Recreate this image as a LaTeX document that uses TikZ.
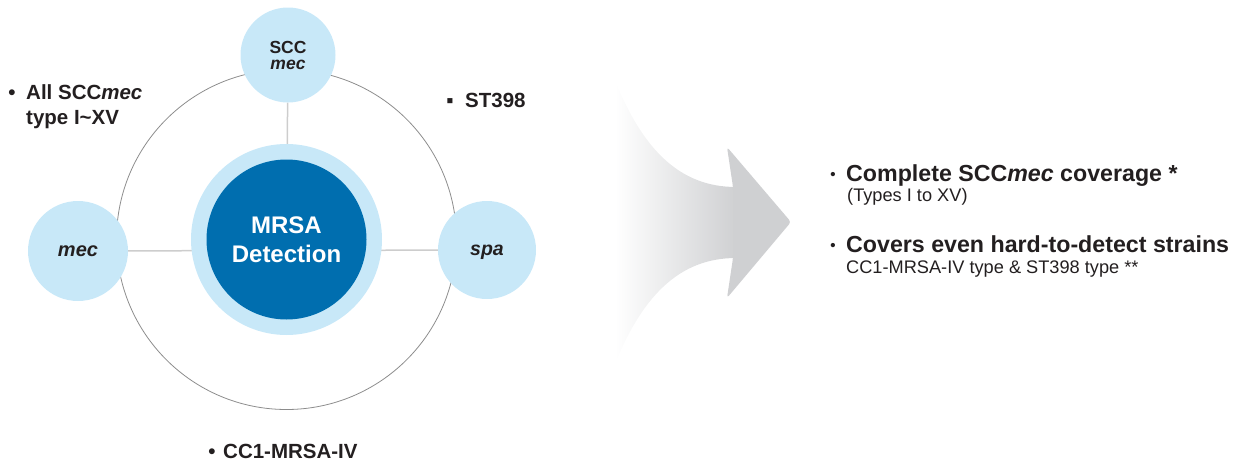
\documentclass[tikz,border=0pt]{standalone}
\usepackage{fontspec}
\setmainfont{Liberation Sans}
\usetikzlibrary{backgrounds}
\definecolor{paleblue}{RGB}{200,232,248}
\definecolor{deepblue}{RGB}{0,110,175}
\definecolor{arrowgray}{RGB}{207,208,210}
\definecolor{ringgray}{RGB}{140,140,140}
\definecolor{spokegray}{RGB}{205,205,205}
\definecolor{ink}{RGB}{35,31,32}
\pgfdeclarehorizontalshading{arrowfade}{100bp}{color(0bp)=(white); color(27bp)=(white);
	color(75bp)=(arrowgray); color(100bp)=(arrowgray)}

\begin{document}
\begin{tikzpicture}[x=1pt,y=-1pt,
	bubble/.style={circle,fill=paleblue,inner sep=0pt,text=ink,align=center},
	spoke/.style={draw=spokegray,line width=1.5pt},
	ring/.style={draw=ringgray,line width=.8pt},
	tag/.style={inner sep=0pt,anchor=base west,text=ink,font=\bfseries\fontsize{20.5}{24}\selectfont},
	dot/.style={inner sep=0pt,anchor=base,text=ink,font=\bfseries\fontsize{20.5}{24}\selectfont},
	bigtag/.style={tag,font=\bfseries\fontsize{23.2}{27}\selectfont},
	smalltag/.style={tag,font=\fontsize{18.2}{21}\selectfont},
	smalldot/.style={dot,font=\bfseries\fontsize{15}{18}\selectfont}]

	\useasboundingbox (0,0) rectangle (1240,463);

	% arrow
	\coordinate (top) at (610,67);
	\coordinate (bot) at (610,377);
	\coordinate (tip) at (791,222);
	\shade[shading=arrowfade] (top) .. controls (640,150) and (680,187) .. (736,187)
		-- (736,258) .. controls (680,258) and (640,295) .. (bot) -- cycle;
	\fill[arrowgray,rounded corners=3pt] (727,147) -- (tip) -- (727,298) -- (733,258) -- (733,187) -- cycle;

	% circles
	\node[bubble,minimum size=191pt] (hub) at (286.5,239.5) {};
	\node[circle,fill=deepblue,inner sep=0pt,minimum size=160pt,text=white,align=center,
		font=\bfseries\fontsize{24}{29}\selectfont] (core) at (hub) {MRSA\\Detection};
	\node[bubble,minimum size=95pt,font=\bfseries\fontsize{17.5}{16}\selectfont] (scc) at (288,55) {SCC\\\textit{mec}};
	\node[bubble,minimum size=100pt,font=\bfseries\itshape\fontsize{20}{24}\selectfont] (mec) at (78,251) {mec};
	\node[bubble,minimum size=98pt,font=\bfseries\itshape\fontsize{19.5}{24}\selectfont,
		text height=10pt,text depth=0pt] (spa) at (487,250) {spa};

	\begin{pgfonlayer}{background}
		\draw[ring] (hub) circle[radius=170];
		\draw[spoke] (mec) -- (spa);
		\draw[spoke] (scc) -- (hub);
	\end{pgfonlayer}

	% labels round the ring
	\node[dot] (b1) at (12,99) {•};
	\node[tag] (allscc) at (26,99) {All SCC\textit{mec}};
	\node[tag] (types) at (26,124) {type I\textasciitilde XV};
	\node[dot] (b2) at (450,107) {▪};
	\node[tag] (st) at (465,107) {ST398};
	\node[dot] (b3) at (212,458) {•};
	\node[tag] (cc) at (223,458) {CC1-MRSA-IV};

	% right side
	\node[smalldot] (b4) at (833,179.5) {•};
	\node[bigtag] (complete) at (846,181) {Complete SCC\textit{mec} coverage *};
	\node[smalltag] (typesxv) at (847,201) {(Types I to XV)};
	\node[smalldot] (b5) at (833,250.5) {•};
	\node[bigtag] (covers) at (846,252) {Covers even hard-to-detect strains};
	\node[smalltag] (strains) at (846,273) {CC1-MRSA-IV type \& ST398 type **};

\end{tikzpicture}
\end{document}
